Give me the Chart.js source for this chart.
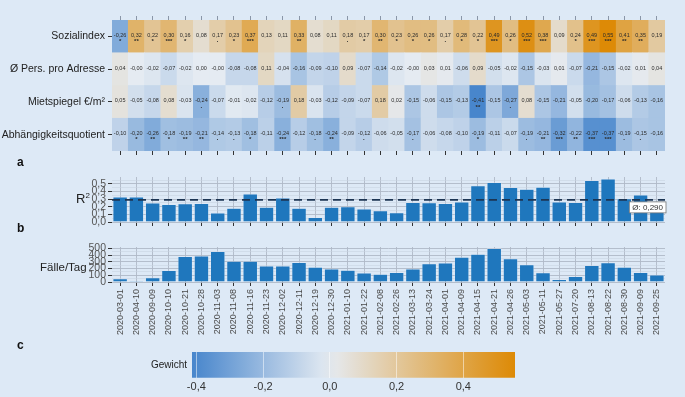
<!DOCTYPE html>
<html>
<head>
<meta charset="utf-8">
<script src="https://cdn.jsdelivr.net/npm/chart.js@4/dist/chart.umd.min.js"></script>
<style>
  html, body { margin: 0; padding: 0; background: #dde9f6; }
  #wrap { position: relative; width: 685px; height: 397px; font-family: 'Liberation Sans', Arial, sans-serif; }
  canvas { position: absolute; left: 0; }
  .lbl { position: absolute; color: #222; }
  .panel { font-weight: bold; font-size: 12px; left: 17px; color: #111; }
</style>
</head>
<body>
<div id="wrap">
  <canvas id="heat" width="685" height="165" style="top:0"></canvas>
  <canvas id="r2" width="685" height="70" style="top:165px"></canvas>
  <canvas id="faelle" width="685" height="105" style="top:235px"></canvas>
  <canvas id="legend" width="685" height="57" style="top:340px"></canvas>
  <div class="lbl panel" style="top:155px">a</div>
  <div class="lbl panel" style="top:221px">b</div>
  <div class="lbl panel" style="top:338px">c</div>
  <div class="lbl" style="top:191px; left:76px; font-size:13px">R<sup style="font-size:8px">2</sup></div>
  <div class="lbl" style="top:261px; left:40px; font-size:11.5px">Fälle/Tag</div>
</div>
<script>
// Stichtage (Spalten)
const dates = ['2020-03-01','2020-04-10','2020-09-09','2020-10-10','2020-10-21','2020-10-28','2020-11-03','2020-11-08',
  '2020-11-16','2020-11-23','2020-12-02','2020-12-11','2020-12-19','2020-12-30','2021-01-10','2021-01-22','2021-02-08',
  '2021-02-26','2021-03-13','2021-03-24','2021-04-01','2021-04-09','2021-04-15','2021-04-21','2021-04-26','2021-05-03',
  '2021-05-11','2021-05-27','2021-07-20','2021-08-13','2021-08-22','2021-08-30','2021-09-09','2021-09-25'];

const rowNames = ['Sozialindex', 'Ø Pers. pro Adresse', 'Mietspiegel €/m²', 'Abhängigkeitsquotient'];

// Gewichte je Variable
const sozialindex = [-0.26,0.32,0.22,0.30,0.16,0.08,0.17,0.23,0.37,0.13,0.11,0.33,0.08,0.11,0.18,0.17,0.30,
  0.23,0.26,0.26,0.17,0.28,0.22,0.49,0.26,0.52,0.38,0.09,0.24,0.49,0.55,0.41,0.35,0.19];
const persProAdresse = [0.04,-0.001,-0.02,-0.07,-0.02,0.00,-0.001,-0.08,-0.08,0.11,-0.04,-0.16,-0.09,-0.10,0.09,-0.07,-0.14,
  -0.02,-0.001,0.03,0.01,-0.06,0.09,-0.05,-0.02,-0.15,-0.03,0.01,-0.07,-0.21,-0.15,-0.02,0.01,0.04];
const mietspiegel = [0.05,-0.05,-0.08,0.08,-0.03,-0.24,-0.07,-0.01,-0.02,-0.12,-0.19,0.18,-0.03,-0.12,-0.09,-0.07,0.18,
  0.02,-0.15,-0.06,-0.15,-0.13,-0.41,-0.15,-0.27,0.08,-0.15,-0.21,-0.05,-0.20,-0.17,-0.06,-0.13,-0.16];
const abhaengigkeit = [-0.10,-0.20,-0.26,-0.18,-0.19,-0.21,-0.14,-0.13,-0.18,-0.11,-0.24,-0.12,-0.18,-0.24,-0.09,-0.12,-0.06,
  -0.05,-0.17,-0.06,-0.08,-0.10,-0.19,-0.11,-0.07,-0.19,-0.21,-0.32,-0.22,-0.37,-0.37,-0.19,-0.15,-0.16];

// Signifikanz-Markierungen
const sozialSig = ['*','**','*','***','*','','·','*','***','','','**','','','·','*','**',
  '*','*','*','·','*','*','***','*','***','***','','*','***','***','**','**',''];
const persSig = dates.map(() => '');
const mietSig = ['','','','','','·','','','','','·','','','','','','',
  '','','','','','**','','·','','','','','','','','',''];
const abhSig = ['','*','**','*','**','**','·','·','*','','***','','·','**','','·','',
  '','·','','','','*','','','·','**','***','**','***','***','·','·',''];

// R² und Fallzahlen
const r2Values = [0.33,0.33,0.25,0.23,0.24,0.245,0.12,0.18,0.37,0.195,0.315,0.18,0.06,0.195,0.20,0.173,0.15,
  0.124,0.258,0.253,0.244,0.262,0.476,0.52,0.453,0.431,0.458,0.262,0.258,0.547,0.564,0.307,0.356,0.20];
const r2Mean = 0.290;
const faelleProTag = [51,14,65,171,380,389,454,310,310,241,241,292,222,194,176,134,116,
  144,194,273,282,370,412,500,347,259,139,37,83,245,287,222,144,106];

const weightTicks = [-0.4, -0.2, 0.0, 0.2, 0.4];
const weightMin = -0.413, weightMax = 0.555;

Chart.defaults.font.family = "'Liberation Sans', Arial, sans-serif";
Chart.defaults.animation = false;

const fmt2 = v => v.toFixed(2).replace('.', ',');
const fmt1 = v => v.toFixed(1).replace('.', ',');

function mix(a, b, t) {
  return a.map((c, i) => Math.round(c + (b[i] - c) * t));
}
function weightColor(v) {
  const mid = [229, 235, 242], blue = [72, 134, 204], orange = [221, 138, 6];
  const c = v < 0 ? mix(mid, blue, Math.min(1, -v / 0.41)) : mix(mid, orange, Math.min(1, v / 0.55));
  return 'rgb(' + c.join(',') + ')';
}

const gridMajor = 'rgba(175,185,200,0.9)';
const gridMinor = 'rgba(200,210,224,0.9)';
const tickDark = '#333';

// --- Heatmap ---
const rowsBottomUp = [
  { values: abhaengigkeit, sig: abhSig },
  { values: mietspiegel, sig: mietSig },
  { values: persProAdresse, sig: persSig },
  { values: sozialindex, sig: sozialSig }
];

const cellText = {
  id: 'cellText',
  afterDatasetsDraw(chart) {
    const ctx = chart.ctx;
    ctx.save();
    ctx.fillStyle = '#2b2b2b';
    ctx.textAlign = 'center';
    ctx.textBaseline = 'middle';
    chart.data.datasets.forEach((ds, di) => {
      chart.getDatasetMeta(di).data.forEach((bar, i) => {
        const cy = (bar.y + bar.base) / 2;
        ctx.font = "5.5px 'Liberation Sans', Arial";
        ctx.fillText(fmt2(ds.values[i]), bar.x, cy - 1);
        if (ds.sig[i]) {
          ctx.font = "bold 6px 'Liberation Sans', Arial";
          ctx.fillText(ds.sig[i], bar.x, cy + 5);
        }
      });
    });
    ctx.restore();
  }
};

new Chart(document.getElementById('heat'), {
  type: 'bar',
  data: {
    labels: dates,
    datasets: rowsBottomUp.map((row, r) => ({
      data: dates.map(() => [r, r + 1]),
      values: row.values,
      sig: row.sig,
      backgroundColor: row.values.map(weightColor),
      borderWidth: 0,
      barPercentage: 1,
      categoryPercentage: 1
    }))
  },
  options: {
    responsive: false,
    layout: { padding: { left: 0, right: 20, top: 0, bottom: 0 } },
    plugins: { legend: { display: false }, tooltip: { enabled: false } },
    scales: {
      x: {
        stacked: true,
        offset: true,
        grid: { offset: false, drawOnChartArea: false, tickLength: 4, tickColor: tickDark },
        ticks: { display: false },
        border: { display: false },
        afterFit: s => { s.height = 14; }
      },
      x2: {
        type: 'category',
        position: 'top',
        offset: true,
        grid: { offset: false, drawOnChartArea: false, tickLength: 4, tickColor: '#8a96a8' },
        ticks: { display: false },
        border: { display: false },
        afterFit: s => { s.height = 20; }
      },
      y: {
        min: 0, max: 4,
        afterBuildTicks: s => { s.ticks = [0.5, 1.5, 2.5, 3.5].map(v => ({ value: v })); },
        ticks: {
          autoSkip: false,
          color: '#222',
          font: { size: 10.5 },
          padding: 3,
          callback: (v, i) => rowNames[3 - i]
        },
        grid: { drawOnChartArea: false, tickLength: 4, tickColor: tickDark },
        border: { display: false },
        afterFit: s => { s.width = 112; }
      }
    }
  },
  plugins: [cellText]
});

// --- gemeinsame Balken-Optionen ---
function barScales(yMax, step, labelStep, fmt, xLabels, xHeight) {
  const isMajor = v => Math.abs(v / labelStep - Math.round(v / labelStep)) < 1e-6;
  return {
    x: {
      offset: true,
      grid: { offset: false, color: gridMajor, lineWidth: 1, tickLength: 4, tickColor: tickDark },
      border: { display: false },
      ticks: xLabels ? {
        display: true, autoSkip: false, minRotation: 90, maxRotation: 90,
        color: '#4a4a4a', font: { size: 9 }, padding: 3
      } : { display: false },
      afterFit: s => { s.height = xHeight; }
    },
    y: {
      min: 0, max: yMax,
      ticks: {
        stepSize: step, autoSkip: false, includeBounds: false,
        color: '#555', font: { size: 10.5 }, padding: 2,
        callback: v => isMajor(v) ? fmt(v) : ''
      },
      grid: {
        color: c => isMajor(c.tick.value) ? gridMajor : gridMinor,
        lineWidth: c => isMajor(c.tick.value) ? 1 : 0.6,
        tickLength: 4,
        tickColor: c => isMajor(c.tick.value) ? tickDark : 'rgba(0,0,0,0)'
      },
      border: { display: false },
      afterFit: s => { s.width = 112; }
    }
  };
}

const meanLine = {
  id: 'meanLine',
  afterDatasetsDraw(chart) {
    const { ctx, chartArea } = chart;
    const y = chart.scales.y.getPixelForValue(r2Mean);
    ctx.save();
    ctx.strokeStyle = '#1c3553';
    ctx.lineWidth = 1.6;
    ctx.setLineDash([8, 5]);
    ctx.beginPath();
    ctx.moveTo(chartArea.left, y);
    ctx.lineTo(chartArea.right, y);
    ctx.stroke();
    ctx.setLineDash([]);
    // Beschriftung des Mittelwerts
    const txt = 'Ø: ' + r2Mean.toFixed(3).replace('.', ',');
    ctx.font = "8px 'Liberation Sans', Arial";
    const w = ctx.measureText(txt).width + 6;
    const bx = chartArea.right - w + 1, by = y + 2;
    ctx.fillStyle = '#fff';
    ctx.strokeStyle = '#777';
    ctx.lineWidth = 0.8;
    ctx.fillRect(bx, by, w, 11);
    ctx.strokeRect(bx, by, w, 11);
    ctx.fillStyle = '#333';
    ctx.textBaseline = 'middle';
    ctx.fillText(txt, bx + 3, by + 5.8);
    ctx.restore();
  }
};

const barStyle = {
  backgroundColor: '#1f77bd',
  borderColor: 'rgba(225,235,248,0.6)',
  borderWidth: 0.6,
  barPercentage: 0.9,
  categoryPercentage: 1
};

new Chart(document.getElementById('r2'), {
  type: 'bar',
  data: { labels: dates, datasets: [Object.assign({ data: r2Values }, barStyle)] },
  options: {
    responsive: false,
    layout: { padding: { left: 0, right: 20, top: 12, bottom: 0 } },
    plugins: { legend: { display: false }, tooltip: { enabled: false } },
    scales: barScales(0.59, 0.05, 0.1, fmt1, false, 13)
  },
  plugins: [meanLine]
});

new Chart(document.getElementById('faelle'), {
  type: 'bar',
  data: { labels: dates, datasets: [Object.assign({ data: faelleProTag }, barStyle)] },
  options: {
    responsive: false,
    layout: { padding: { left: 0, right: 20, top: 12, bottom: 0 } },
    plugins: { legend: { display: false }, tooltip: { enabled: false } },
    scales: barScales(520, 50, 100, v => String(v), true, 58)
  }
});

// --- Farbskala ---
new Chart(document.getElementById('legend'), {
  type: 'bar',
  data: {
    labels: ['Gewicht'],
    datasets: [{
      data: [[weightMin, weightMax]],
      backgroundColor: c => {
        const area = c.chart.chartArea;
        if (!area) return weightColor(0);
        const g = c.chart.ctx.createLinearGradient(area.left, 0, area.right, 0);
        for (let k = 0; k <= 20; k++) {
          const v = weightMin + (weightMax - weightMin) * k / 20;
          g.addColorStop(k / 20, weightColor(v));
        }
        return g;
      },
      borderWidth: 0,
      barPercentage: 1,
      categoryPercentage: 1
    }]
  },
  options: {
    indexAxis: 'y',
    responsive: false,
    layout: { padding: { left: 0, right: 170, top: 12, bottom: 0 } },
    plugins: { legend: { display: false }, tooltip: { enabled: false } },
    scales: {
      x: {
        min: weightMin, max: weightMax,
        afterBuildTicks: s => { s.ticks = weightTicks.map(v => ({ value: v })); },
        ticks: { color: '#333', font: { size: 11 }, padding: 3, callback: v => fmt1(v) },
        grid: { color: 'rgba(255,255,255,0.5)', z: 1, drawTicks: false },
        border: { display: false }
      },
      y: {
        ticks: { color: '#222', font: { size: 10 }, padding: 5 },
        grid: { display: false, drawTicks: false, tickLength: 0 },
        border: { display: false },
        afterFit: s => { s.width = 192; }
      }
    }
  }
});
</script>
</body>
</html>
